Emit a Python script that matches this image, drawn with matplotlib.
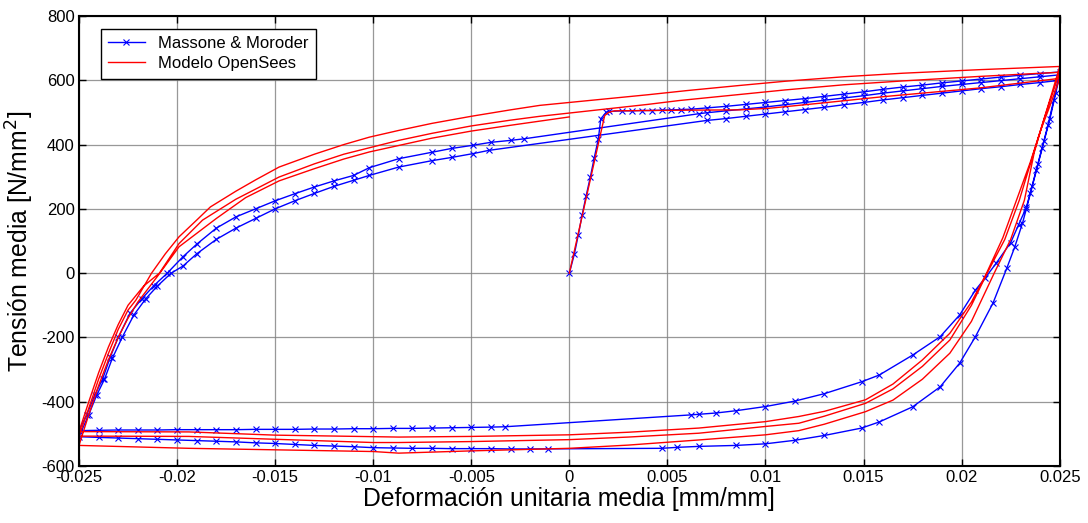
import matplotlib
matplotlib.use("Agg")
import matplotlib.pyplot as plt
import numpy as np

plt.rcParams['font.family'] = ['Liberation Sans', 'DejaVu Sans']
plt.rcParams['axes.unicode_minus'] = False

# ---- Massone & Moroder (experimental), read off the picture, branch by branch ----
# initial loading + first tension branch
exp_a_x = [0, 0.00025, 0.00046, 0.00065, 0.00085, 0.00107, 0.00127, 0.00148, 0.0016, 0.00187, 0.0020,
           0.0027, 0.0032, 0.0037, 0.0042, 0.0047, 0.0052, 0.0057, 0.0062, 0.007, 0.008, 0.009, 0.010,
           0.011, 0.012, 0.013, 0.014, 0.015, 0.016, 0.017, 0.018, 0.019, 0.020, 0.021, 0.022, 0.023,
           0.024, 0.025]
exp_a_y = [0, 58, 120, 180, 239, 299, 359, 418, 480, 500, 503,
           505, 505, 506, 506, 507, 508, 509, 510, 514, 519, 525, 531,
           537, 543, 550, 557, 564, 572, 579, 585, 592, 598, 604, 610, 616,
           621, 626]
# first compression branch (gap between 0.0062 and -0.0033)
exp_b_x = [0.0247, 0.0244, 0.0241, 0.0238, 0.0235, 0.0233, 0.0229, 0.0225, 0.02175, 0.0212, 0.0207,
           0.0199, 0.0189, 0.0175, 0.0158, 0.0149, 0.013, 0.0115, 0.010, 0.0085, 0.0075, 0.0066, 0.0062,
           -0.0033, -0.004, -0.005, -0.006, -0.007, -0.008, -0.009, -0.010, -0.011, -0.012, -0.013,
           -0.014, -0.015, -0.016, -0.017, -0.018, -0.019, -0.020, -0.021, -0.022, -0.023, -0.024, -0.025]
exp_b_y = [540, 460, 390, 320, 250, 205, 150, 95, 30, -15, -53,
           -130, -198, -255, -317, -338, -375, -398, -415, -428, -435, -439, -441,
           -478, -479, -480, -481, -482, -483, -483, -484, -484, -485, -485,
           -486, -486, -486, -487, -487, -487, -487, -488, -488, -488, -489, -490]
# first reload branch (gap between -0.0023 and 0.0066)
exp_c_x = [-0.0246, -0.0242, -0.0238, -0.0234, -0.0230, -0.0224, -0.0218, -0.0212, -0.0205, -0.0197,
           -0.019, -0.018, -0.017, -0.016, -0.015, -0.014, -0.013, -0.012, -0.011, -0.0102, -0.0087,
           -0.007, -0.006, -0.0049, -0.004, -0.003, -0.0023,
           0.0066, 0.007, 0.008, 0.009, 0.010, 0.011, 0.012, 0.013, 0.014, 0.015, 0.016, 0.017, 0.018,
           0.019, 0.020, 0.021, 0.022, 0.023, 0.024, 0.025]
exp_c_y = [-440, -380, -330, -260, -200, -125, -80, -40, 0, 51,
           90, 140, 175, 200, 225, 247, 268, 287, 304, 328, 356,
           376, 388, 398, 407, 413, 418,
           496, 499, 505, 511, 517, 524, 531, 538, 545, 552, 560, 567, 574,
           581, 587, 593, 599, 605, 611, 617]
# second compression branch (gap between 0.0047 and -0.0011)
exp_d_x = [0.0248, 0.0245, 0.0242, 0.0239, 0.0236, 0.0233, 0.0231, 0.0227, 0.0223, 0.0216, 0.0207,
           0.0199, 0.0189, 0.0175, 0.0158, 0.0149, 0.013, 0.0115, 0.010, 0.0085, 0.0066, 0.0055, 0.0047,
           -0.0011, -0.002, -0.003, -0.004, -0.005, -0.006, -0.007, -0.008, -0.009, -0.010, -0.011,
           -0.012, -0.013, -0.014, -0.015, -0.016, -0.017, -0.018, -0.019, -0.020, -0.021, -0.022,
           -0.023, -0.024, -0.025]
exp_d_y = [560, 480, 410, 340, 270, 200, 155, 80, 15, -93, -198,
           -280, -354, -416, -463, -482, -505, -520, -531, -536, -539, -542, -545,
           -547, -547, -547, -546, -546, -546, -545, -545, -544, -543, -540,
           -538, -536, -533, -530, -528, -525, -523, -521, -519, -517, -515,
           -513, -511, -509]
# second reload branch (gap between -0.0041 and 0.007)
exp_e_x = [-0.0245, -0.0241, -0.0237, -0.0233, -0.0228, -0.0222, -0.0216, -0.021, -0.0203, -0.0197,
           -0.019, -0.018, -0.017, -0.016, -0.015, -0.014, -0.013, -0.012, -0.011, -0.0102, -0.0087,
           -0.007, -0.006, -0.0049, -0.0041,
           0.007, 0.008, 0.009, 0.010, 0.011, 0.012, 0.013, 0.014, 0.015, 0.016, 0.017, 0.018,
           0.019, 0.020, 0.021, 0.022, 0.023, 0.024, 0.025]
exp_e_y = [-440, -380, -330, -265, -200, -130, -80, -40, 0, 22,
           60, 105, 140, 170, 200, 225, 248, 270, 289, 304, 330,
           350, 360, 372, 382,
           475, 481, 488, 495, 502, 509, 516, 524, 531, 539, 546, 553,
           560, 567, 574, 580, 587, 593, 600]

# ---- Modelo OpenSees ----
mod_0_x = [0, 0.0018, 0.0020, 0.0023, 0.004, 0.006, 0.0087, 0.0102, 0.013, 0.016, 0.0209, 0.025]
mod_0_y = [0, 490, 500, 505, 506, 507, 508, 513, 530, 549, 576, 606]
mod_1_x = [0.0245, 0.0240, 0.0235, 0.0228, 0.0221, 0.02127, 0.0205, 0.0194, 0.018, 0.0165, 0.0151,
           0.013, 0.0117, 0.010, 0.0066, 0.003, 0.0, -0.005, -0.0087, -0.015, -0.0194, -0.025]
mod_1_y = [520, 440, 345, 227, 110, 0, -90, -187, -270, -345, -394,
           -430, -446, -462, -482, -495, -503, -508, -510, -504, -494, -493]
mod_2_x = [-0.0245, -0.024, -0.0235, -0.023, -0.0225, -0.0217, -0.0209, -0.0199, -0.0187, -0.017,
           -0.0148, -0.013, -0.0115, -0.0102, -0.0087, -0.007, -0.005, -0.003, -0.0015, 0.0, 0.002,
           0.004, 0.0056, 0.0087, 0.011, 0.014, 0.017, 0.0209, 0.025]
mod_2_y = [-400, -310, -230, -160, -100, -40, 0, 92, 165, 230,
           299, 340, 370, 390, 413, 435, 458, 476, 488, 498, 511,
           525, 537, 556, 570, 586, 598, 612, 625]
mod_3_x = [0.0245, 0.0241, 0.0236, 0.02294, 0.0222, 0.0213, 0.0205, 0.0194, 0.018, 0.0165, 0.0151,
           0.013, 0.0117, 0.010, 0.0066, 0.003, 0.0, -0.005, -0.0087, -0.010, -0.0194, -0.025]
mod_3_y = [535, 460, 360, 227, 105, 0, -100, -208, -290, -360, -405,
           -445, -467, -477, -498, -510, -518, -524, -527, -527, -508, -507]
mod_4_x = [-0.0245, -0.024, -0.0235, -0.023, -0.0225, -0.0221, -0.0213, -0.0206, -0.0199, -0.019,
           -0.0183, -0.017, -0.016, -0.0148, -0.013, -0.0115, -0.0102, -0.0087, -0.007, -0.005,
           -0.003, -0.0015, 0.0, 0.002, 0.004, 0.006, 0.0087, 0.011, 0.014, 0.017, 0.0209, 0.025]
mod_4_y = [-420, -330, -250, -175, -115, -84, 0, 60, 113, 165,
           206, 255, 290, 330, 370, 400, 423, 444, 466, 488,
           508, 522, 531, 543, 555, 568, 584, 597, 611, 622, 633, 643]
mod_5_x = [0.0246, 0.0242, 0.0237, 0.0232, 0.0225, 0.02166, 0.0205, 0.0194, 0.018, 0.0165, 0.0151,
           0.013, 0.0117, 0.010, 0.0066, 0.003, 0.0, -0.005, -0.0087, -0.010, -0.0194, -0.025]
mod_5_y = [560, 480, 375, 227, 105, 0, -150, -249, -330, -395, -431,
           -470, -490, -503, -519, -535, -545, -553, -560, -555, -545, -536]
mod_6_x = [-0.0245, -0.024, -0.0235, -0.023, -0.0225, -0.022, -0.021, -0.0199, -0.018, -0.0165,
           -0.0148, -0.013, -0.0115, -0.0102, -0.0087, -0.007, -0.005, -0.003, -0.0015, 0.0]
mod_6_y = [-440, -350, -270, -200, -140, -90, -10, 82, 170, 235,
           287, 325, 355, 377, 397, 420, 442, 460, 473, 486]

exp_x = exp_a_x + exp_b_x + exp_c_x + exp_d_x + exp_e_x
exp_y = exp_a_y + exp_b_y + exp_c_y + exp_d_y + exp_e_y
mod_x = mod_0_x + mod_1_x + mod_2_x + mod_3_x + mod_4_x + mod_5_x + mod_6_x
mod_y = mod_0_y + mod_1_y + mod_2_y + mod_3_y + mod_4_y + mod_5_y + mod_6_y

xticks = [-0.025, -0.02, -0.015, -0.01, -0.005, 0, 0.005, 0.01, 0.015, 0.02, 0.025]
xtick_labels = ['-0.025', '-0.02', '-0.015', '-0.01', '-0.005', '0', '0.005', '0.01', '0.015', '0.02', '0.025']
yticks = [-600, -400, -200, 0, 200, 400, 600, 800]

fig = plt.figure(figsize=(10.88, 5.23), dpi=100)
ax = fig.add_axes([0.0726, 0.109, 0.9014, 0.8604])

ax.plot(exp_x, exp_y, color='#0000ff', lw=1.0, marker='x', markersize=4.5, mew=0.8,
        label='Massone & Moroder')
ax.plot(mod_x, mod_y, color='#ff0000', lw=1.0, label='Modelo OpenSees')

ax.set_xlim(-0.025, 0.025)
ax.set_ylim(-600, 800)
ax.set_xticks(xticks)
ax.set_xticklabels(xtick_labels)
ax.set_yticks(yticks)
ax.tick_params(direction='in', top=True, right=True, labelsize=12, length=5, width=1, pad=3)
ax.grid(True, color='#7f7f7f', lw=0.9, alpha=0.8)
ax.set_axisbelow(True)
for s in ax.spines.values():
    s.set_linewidth(1.5)

ax.set_xlabel('Deformación unitaria media [mm/mm]', fontsize=17.8, labelpad=1)
ax.set_ylabel('Tensión media [N/mm$^2$]', fontsize=17.8, labelpad=4)

leg = ax.legend(loc='upper left', fontsize=12, frameon=True, fancybox=False, edgecolor='black',
                framealpha=1, handlelength=2.2, borderpad=0.45, labelspacing=0.3,
                borderaxespad=0, bbox_to_anchor=(0.022, 0.972))
leg.get_frame().set_linewidth(1.0)

fig.savefig('out.png', dpi=100)
